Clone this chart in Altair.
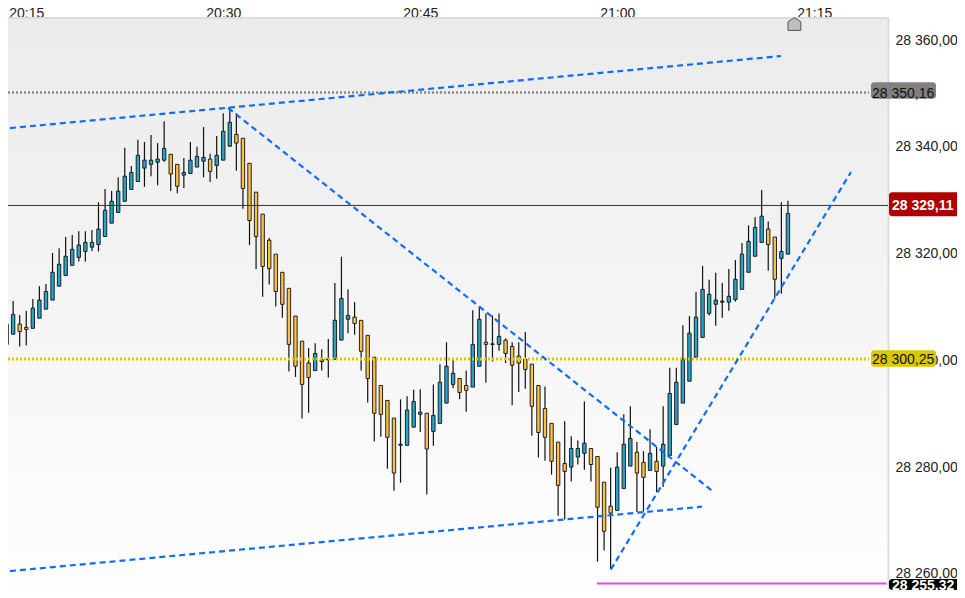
import altair as alt
import pandas as pd

BASE = 28260.0
START_MIN = 20 * 60 + 13          # first candle, minutes after midnight
END_MIN = 20 * 60 + 80.62         # right edge of the plot
FONT = "Liberation Sans"

# points above BASE, one value per 30-second candle
highs = [46.1,48.5,51.1,48.5,49.3,51.5,53.9,54.3,60.1,61.0,
         63.1,63.5,64.2,64.2,64.4,69.6,72.1,71.7,74.3,79.8,
         76.4,81.3,80.9,82.2,80.7,84.8,78.6,76.7,77.9,80.9,
         80.0,83.7,78.7,82.0,86.3,87.3,86.3,81.6,76.9,71.5,
         67.4,62.9,59.9,56.5,53.5,48.3,43.6,42.3,43.2,42.1,
         44.0,54.5,59.4,53.3,50.9,47.5,44.7,40.6,35.3,32.5,
         29.2,32.7,33.3,34.5,34.6,30.1,35.5,39.3,43.4,40.4,
         36.6,38.1,49.4,50.1,48.8,48.4,48.8,44.1,43.4,43.4,
         45.3,39.3,35.3,35.1,28.2,24.7,28.6,25.8,25.0,32.3,
         23.5,22.0,17.2,19.9,22.8,29.9,31.4,24.7,23.0,27.1,
         23.8,31.4,38.6,38.6,46.6,48.3,52.8,57.7,55.1,56.4,
         54.5,57.1,58.8,62.0,65.3,66.8,71.9,66.0,63.1,69.6,
         69.9]
lows = [41.0,43.0,44.9,42.6,42.8,46.0,47.9,49.6,51.3,53.9,
        55.9,57.8,58.5,58.5,60.5,60.4,63.2,65.7,67.7,69.8,
        72.0,73.5,72.5,74.5,72.8,77.2,71.7,71.3,72.3,75.0,
        76.2,74.3,73.4,74.0,77.5,80.1,75.5,68.4,61.6,57.1,
        51.9,54.2,50.1,48.0,37.9,36.9,29.1,30.2,38.1,38.1,
        36.8,40.2,43.8,45.1,44.8,38.1,32.1,24.8,25.7,19.7,
        15.6,17.1,24.1,27.5,26.6,14.9,24.0,28.2,32.0,34.8,
        32.7,30.4,35.0,38.9,35.8,39.8,41.8,39.5,31.6,34.1,
        34.7,25.9,21.8,21.2,18.6,10.9,10.2,17.3,20.5,19.5,
        17.3,2.3,4.4,0.9,11.9,16.0,20.2,11.6,11.7,19.4,
        15.3,16.3,22.2,28.0,32.0,36.1,40.6,44.3,48.4,46.5,
        48.0,49.3,51.0,53.3,56.5,59.5,62.1,56.8,51.6,52.5,
        59.9]
body_tops = [44.7,46.8,48.6,46.8,46.2,49.8,51.3,52.9,56.5,58.0,
             59.5,60.8,61.6,62.1,62.1,64.6,68.1,69.8,71.7,74.5,
             75.2,78.4,77.5,77.5,77.7,79.7,78.6,76.7,75.2,77.5,
             78.2,78.0,77.7,78.4,82.9,84.6,82.3,81.6,76.9,71.5,
             67.4,62.5,59.9,56.5,53.5,48.3,43.6,39.5,41.3,40.1,
             40.2,47.5,51.6,48.4,48.1,47.5,44.7,40.6,35.3,32.5,
             29.2,24.3,30.7,32.3,30.3,30.1,29.7,35.9,38.9,37.6,
             36.6,35.3,43.0,47.7,43.4,43.1,44.5,43.8,42.6,40.8,
             40.2,39.3,35.3,31.0,28.2,24.7,20.7,23.5,23.5,24.5,
             23.5,22.0,17.2,12.7,20.0,24.3,25.4,22.8,20.9,22.6,
             21.1,24.3,33.8,35.9,40.1,45.1,48.1,53.3,52.4,51.3,
             51.1,52.0,55.2,59.9,62.3,64.9,67.0,64.6,63.1,60.4,
             67.5]
body_bottoms = [41.3,43.0,44.9,45.4,45.8,46.0,47.9,49.6,51.3,53.9,
                55.9,57.8,59.3,60.4,61.2,61.7,63.2,65.7,67.7,69.8,
                72.0,73.5,76.0,76.7,77.1,77.5,74.9,72.6,74.7,75.0,
                76.2,77.3,75.4,76.5,77.5,80.1,80.7,72.2,66.2,63.2,
                57.6,57.2,52.9,50.5,43.0,38.9,35.5,36.8,38.1,39.8,
                40.1,40.2,43.8,47.7,46.9,41.7,36.6,30.1,29.9,25.6,
                18.9,24.1,24.1,27.5,29.9,23.4,26.7,28.2,32.0,35.5,
                34.0,34.4,35.0,38.9,43.0,43.0,43.0,41.3,39.1,39.5,
                38.3,31.4,26.5,25.6,21.1,16.6,19.2,20.0,21.9,22.6,
                20.5,12.5,8.0,11.4,11.9,16.0,20.2,18.9,18.1,19.4,
                19.2,20.2,22.2,28.0,32.0,36.1,40.6,44.3,48.8,50.5,
                50.9,50.9,51.4,53.3,56.5,59.5,62.1,61.7,55.2,59.1,
                59.9]
falling = [3,4,26,27,32] + list(range(36,48)) + [49] + list(range(54,61)) + \
          [65,70,71,74] + list(range(77,87)) + [90,91,92,93,97,98,100,117,118]

x_ticks = [1215, 1230, 1245, 1260, 1275]
y_ticks = [28260, 28280, 28300, 28320, 28340, 28360]
trend_lines = {
    "a": [("20:13:00", 28343.33), ("21:12:28", 28357.00)],
    "b": [("20:30:22", 28347.27), ("21:07:17", 28275.49)],
    "c": [("20:13:00", 28260.37), ("21:06:27", 28272.60)],
    "d": [("20:59:31", 28260.84), ("21:17:48", 28335.28)],
}
support_line = [("20:58:27", 28258.2), ("21:20:30", 28258.2)]

grey_level = 28350.16
yellow_level = 28300.25
last_price = 28329.11

tags = [
    ("28 350,16", grey_level, 28352.1, 28349.0, "#808080", "#111111", "normal", 871, 936, 872),
    ("28 300,25", yellow_level, 28301.9, 28298.8, "#dcc800", "#111111", "normal", 871, 936, 872),
    ("28 329,11", last_price, 28331.5, 28327.0, "#b00000", "#ffffff", "bold", 889, 965, 892),
    ("28 255,32", 28257.9, 28259.06, 28257.0, "#000000", "#ffffff", "bold", 889, 965, 892),
]


def when(hms):
    h, m, s = hms.split(":")
    return int(h) * 60 + int(m) + int(s) / 60


candles = pd.DataFrame({
    "t": [START_MIN + 0.5 * i for i in range(len(highs))],
    "high": [BASE + v for v in highs],
    "low": [BASE + v for v in lows],
    "top": [BASE + v for v in body_tops],
    "bottom": [BASE + v for v in body_bottoms],
    "dir": ["fall" if i in falling else "rise" for i in range(len(highs))],
})

x_scale = alt.Scale(domain=[START_MIN, END_MIN], nice=False, zero=False, padding=0)
y_scale = alt.Scale(domain=[28257.0, 28364.12], nice=False, zero=False, padding=0)
x_axis = alt.Axis(orient="top", values=x_ticks, ticks=False, domain=False, grid=False,
                  labelFont=FONT, labelFontSize=14, labelColor="#222222",
                  labelBaseline="alphabetic", labelPadding=1,
                  labelOverlap=False, labelFlush=False,
                  labelExpr="format(floor(datum.value / 60), '02d') + ':' + format(datum.value % 60, '02d')")
y_axis = alt.Axis(orient="right", values=y_ticks, ticks=False, domain=False,
                  grid=False, labelFont=FONT, labelFontSize=14,
                  labelColor="#222222", labelPadding=7,
                  labelExpr="replace(replace(format(datum.value, ',.2f'), ',', ' '), '.', ',')")
X = alt.X("t:Q", title=None, scale=x_scale, axis=None)


def Y(field="y:Q"):
    return alt.Y(field, title=None, scale=y_scale, axis=None)


one = pd.DataFrame({"a": [0]})
W, H = 888, 572

panel = alt.Chart(one).mark_rect(
    fill=alt.LinearGradient(
        gradient="linear", x1=0, x2=0, y1=0, y2=1,
        stops=[alt.GradientStop(color="#ebebeb", offset=0),
               alt.GradientStop(color="#fefefe", offset=1)]),
).encode(x=alt.value(0), x2=alt.value(W), y=alt.value(0), y2=alt.value(H))

border_v = alt.Chart(one).mark_rule(color="#dcdcdc", strokeWidth=2).encode(
    x=alt.value(W + 0.5), y=alt.value(0), y2=alt.value(H))
border_h = alt.Chart(one).mark_rule(color="#dcdcdc", strokeWidth=2).encode(
    y=alt.value(0), x=alt.value(0), x2=alt.value(W + 1))

wicks = alt.Chart(candles).mark_rule(color="#111111", strokeWidth=1.2, clip=True).encode(
    x=alt.X("t:Q", title=None, scale=x_scale, axis=x_axis),
    y=alt.Y("high:Q", title=None, scale=y_scale, axis=y_axis),
    y2="low:Q",
)
bodies = alt.Chart(candles).mark_bar(width=3.4, stroke="#111111", strokeWidth=0.9, clip=True).encode(
    x=X, y=Y("top:Q"), y2="bottom:Q",
    fill=alt.Fill("dir:N", legend=None,
                  scale=alt.Scale(domain=["rise", "fall"], range=["#2aa3c8", "#fbc04a"])),
)

line_rows = [{"name": k, "t": when(p[0]), "y": p[1], "o": i}
             for k, pts in trend_lines.items() for i, p in enumerate(pts)]
trends = alt.Chart(pd.DataFrame(line_rows)).mark_line(
    color="#0d6efd", strokeWidth=2.2, strokeDash=[6, 4], clip=True
).encode(x=X, y=Y(), detail="name:N", order="o:Q")

pink = alt.Chart(pd.DataFrame([{"t": when(t), "y": y} for t, y in support_line])).mark_line(
    color="#f040f0", strokeWidth=2).encode(x=X, y=Y())

last_line = alt.Chart(pd.DataFrame({"y": [last_price]})).mark_rule(
    color="#333333", strokeWidth=1, yOffset=0.5).encode(y=Y(), x=alt.value(0), x2=alt.value(W))
grey_line = alt.Chart(pd.DataFrame({"y": [grey_level]})).mark_rule(
    color="#8a8a8a", strokeWidth=2.5, strokeDash=[2, 2]).encode(y=Y(), x=alt.value(0), x2=alt.value(869))
yellow_line = alt.Chart(pd.DataFrame({"y": [yellow_level]})).mark_rule(
    color="#dcc800", strokeWidth=3, strokeDash=[2, 2]).encode(y=Y(), x=alt.value(0), x2=alt.value(869))

home = alt.Chart(one).mark_point(
    shape="M0,-1L1,-0.35L1,1L-1,1L-1,-0.35Z", size=165, filled=True,
    fill="#bdbdbd", stroke="#555555", strokeWidth=1, opacity=1,
).encode(x=alt.value(794.4), y=alt.value(6))

tag_layers = []
for text, level, hi, lo, fill, ink, weight, x0, x1, tx in tags:
    box = alt.Chart(pd.DataFrame({"y": [hi], "y2": [lo]})).mark_rect(
        fill=fill, cornerRadius=3
    ).encode(x=alt.value(x0), x2=alt.value(x1), y=Y(), y2="y2:Q")
    label = alt.Chart(pd.DataFrame({"y": [level], "label": [text]})).mark_text(
        font=FONT, fontSize=14, fontWeight=weight, color=ink, align="left", baseline="middle", dy=1
    ).encode(x=alt.value(tx), y=Y(), text="label:N")
    tag_layers += [box, label]

chart = alt.layer(
    panel, border_v, border_h, wicks, bodies, last_line, grey_line, yellow_line,
    trends, pink, home, *tag_layers
).resolve_axis(x="independent", y="independent").properties(
    width=W, height=H,
    autosize=alt.AutoSizeParams(type="none"),
    padding={"left": -8, "top": 10, "right": 69, "bottom": 0},
    background="#ffffff",
).configure_view(stroke=None)

chart.save("out.html", embed_options={"renderer": "svg", "actions": False})
